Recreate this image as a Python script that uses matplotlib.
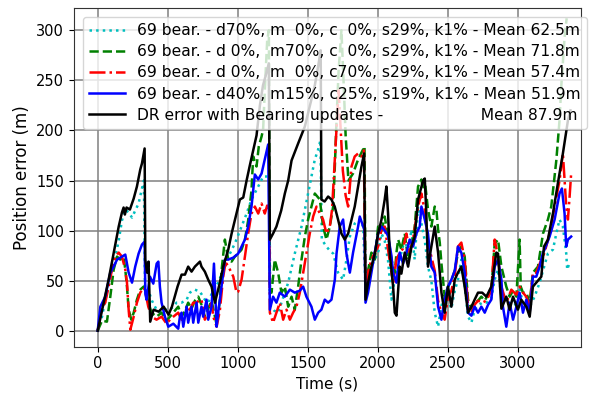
import matplotlib
matplotlib.use("Agg")
import matplotlib.pyplot as plt

# ---------------- data ----------------
labels = [
    "69 bear. - d70%, m  0%, c  0%, s29%, k1% - Mean 62.5m",
    "69 bear. - d 0%,  m70%, c  0%, s29%, k1% - Mean 71.8m",
    "69 bear. - d 0%,  m  0%, c70%, s29%, k1% - Mean 57.4m",
    "69 bear. - d40%, m15%, c25%, s19%, k1% - Mean 51.9m",
    "DR error with Bearing updates -" + " " * 20 + "Mean 87.9m",
]

# cyan dotted (d70)
t_d = [0, 31, 54, 90, 126, 150, 173, 197, 221, 245, 268, 292, 316, 330, 338, 363, 387, 420, 456,
       492, 516, 540, 563, 599, 635, 658, 694, 730, 765, 789, 825, 860, 908, 944, 979, 1027, 1063,
       1098, 1146, 1181, 1225, 1232, 1260, 1288, 1360, 1407, 1455, 1502, 1550, 1574, 1590, 1600,
       1633, 1657, 1681, 1716, 1752, 1776, 1800, 1835, 1871, 1895, 1912, 1954, 2002, 2026, 2049,
       2073, 2097, 2120, 2168, 2192, 2216, 2240, 2263, 2287, 2311, 2335, 2358, 2382, 2406, 2430,
       2454, 2477, 2501, 2525, 2549, 2572, 2596, 2620, 2644, 2668, 2691, 2715, 2745, 2775, 2810,
       2834, 2858, 2882, 2917, 2941, 2965, 2989, 3012, 3036, 3060, 3084, 3119, 3155, 3179, 3214,
       3250, 3274, 3297, 3321, 3345, 3352, 3369]
v_d = [0, 14, 31, 55, 74, 90, 110, 121, 118, 113, 120, 127, 142, 150, 40, 40, 30, 21, 18,
       21, 21, 24, 28, 28, 31, 38, 41, 39, 31, 28, 41, 48, 64, 77, 87, 104, 117,
       131, 144, 154, 154, 25, 20, 18, 48, 77, 104, 137, 171, 181, 190, 91,
       84, 80, 77, 58, 51, 71, 94, 107, 111, 104, 44, 64, 78, 97, 90,
       70, 31, 51, 78, 91, 78, 101, 71, 124, 107, 90, 64, 50, 18, 4,
       25, 34, 30, 22, 40, 51, 71, 44, 14, 8, 21, 25, 28, 28, 32,
       51, 61, 34, 31, 26, 31, 24, 41, 28, 34, 24, 34, 48, 60, 77,
       81, 97, 111, 104, 77, 61, 68]

# green dashed (m70)
t_m = [0, 31, 66, 90, 114, 138, 161, 185, 197, 209, 221, 240, 257, 280, 304, 328, 340, 361, 385,
       420, 456, 492, 516, 540, 575, 599, 623, 646, 670, 694, 718, 741, 765, 789, 813, 837, 849,
       872, 884, 908, 932, 956, 979, 1003, 1027, 1051, 1074, 1098, 1110, 1134, 1150, 1170, 1181,
       1193, 1210, 1222, 1229, 1241, 1264, 1288, 1312, 1336, 1360, 1384, 1407, 1431, 1455, 1479,
       1502, 1526, 1550, 1586, 1609, 1633, 1657, 1681, 1693, 1705, 1720, 1740, 1755, 1770, 1790,
       1823, 1859, 1895, 1905, 1912, 1930, 1954, 1978, 2002, 2026, 2049, 2073, 2097, 2121, 2133,
       2145, 2168, 2192, 2216, 2240, 2263, 2287, 2311, 2323, 2335, 2358, 2382, 2406, 2418, 2430,
       2442, 2454, 2477, 2501, 2525, 2549, 2572, 2596, 2620, 2644, 2668, 2691, 2715, 2739, 2763,
       2787, 2810, 2834, 2858, 2882, 2917, 2941, 2965, 2989, 3012, 3020, 3036, 3060, 3084, 3107,
       3143, 3179, 3214, 3238, 3274, 3297, 3309, 3333, 3348]
v_m = [0, 10, 9, 34, 61, 74, 71, 74, 61, 44, 21, 11, 18, 31, 41, 44, 40, 28, 18,
       14, 18, 10, 14, 18, 24, 14, 20, 28, 22, 30, 34, 26, 14, 22, 30, 14, 6,
       30, 60, 91, 71, 69, 74, 77, 81, 91, 110, 140, 174, 164, 184, 194, 201,
       240, 290, 300, 40, 38, 71, 58, 38, 44, 24, 34, 21, 44, 71, 94,
       111, 124, 137, 131, 104, 91, 104, 124, 164, 210, 260, 300, 250, 195, 150,
       157, 171, 181, 184, 34, 60, 78, 71, 104, 100, 114, 94, 71, 58, 78,
       91, 81, 97, 71, 84, 104, 144, 151, 141, 150, 121, 104, 124, 121, 101,
       88, 67, 34, 44, 50, 60, 78, 84, 74, 31, 22, 28, 30, 34, 30,
       36, 40, 87, 91, 64, 44, 34, 40, 34, 91, 44, 38, 38, 28, 58,
       64, 97, 111, 124, 170, 210, 243, 293, 312]

# red dash-dot (c70)
t_c = [0, 31, 54, 78, 102, 126, 150, 173, 197, 209, 221, 233, 257, 280, 304, 328, 337, 361, 385,
       420, 456, 492, 516, 540, 575, 599, 623, 646, 658, 682, 706, 730, 741, 765, 789, 813, 825,
       849, 872, 896, 908, 920, 944, 968, 991, 1003, 1027, 1051, 1074, 1098, 1122, 1146, 1170,
       1193, 1210, 1225, 1229, 1252, 1276, 1300, 1324, 1348, 1372, 1395, 1419, 1443, 1467, 1490,
       1514, 1538, 1562, 1586, 1609, 1633, 1657, 1673, 1693, 1705, 1720, 1735, 1750, 1770, 1788,
       1812, 1835, 1859, 1883, 1900, 1912, 1930, 1954, 1978, 2002, 2026, 2049, 2073, 2097, 2109,
       2133, 2156, 2180, 2204, 2228, 2251, 2287, 2311, 2323, 2335, 2358, 2382, 2406, 2430, 2454,
       2477, 2501, 2525, 2549, 2572, 2596, 2620, 2644, 2668, 2691, 2715, 2745, 2775, 2810, 2834,
       2858, 2882, 2917, 2953, 2989, 3012, 3036, 3060, 3084, 3107, 3131, 3167, 3190, 3226, 3262,
       3297, 3321, 3333, 3345, 3357, 3369, 3380]
v_c = [0, 24, 28, 44, 61, 74, 78, 74, 61, 48, 21, 1, 14, 28, 38, 43, 41, 24, 14,
       11, 14, 7, 11, 14, 18, 11, 14, 21, 21, 28, 28, 31, 31, 11, 18, 28, 14,
       4, 20, 54, 64, 67, 61, 54, 38, 39, 51, 74, 97, 117, 124, 117, 127,
       117, 125, 120, 18, 8, 18, 28, 11, 21, 11, 18, 24, 38, 58, 77,
       97, 114, 124, 117, 111, 97, 104, 121, 171, 200, 240, 200, 160, 135, 124,
       164, 174, 177, 174, 180, 34, 58, 71, 78, 84, 101, 104, 81, 58, 48,
       71, 78, 82, 97, 78, 91, 124, 137, 128, 121, 88, 74, 60, 30, 18,
       11, 34, 40, 55, 84, 88, 71, 24, 18, 26, 30, 28, 30, 40, 91,
       74, 44, 28, 41, 36, 44, 38, 34, 24, 58, 58, 71, 78, 97, 124,
       150, 177, 150, 124, 111, 134, 157]

# blue solid (d40 m15 c25)
t_b = [0, 19, 54, 90, 114, 138, 173, 197, 221, 245, 268, 292, 316, 335, 340, 349, 373, 397, 421,
       433, 444, 456, 480, 504, 540, 575, 587, 599, 611, 635, 646, 670, 682, 706, 718, 741, 753,
       777, 789, 813, 830, 849, 860, 884, 908, 932, 968, 1003, 1027, 1051, 1074, 1098, 1110, 1122,
       1146, 1170, 1193, 1217, 1229, 1252, 1276, 1300, 1336, 1372, 1407, 1443, 1467, 1490, 1526,
       1550, 1574, 1597, 1621, 1645, 1669, 1693, 1705, 1728, 1752, 1776, 1800, 1823, 1859, 1871,
       1895, 1905, 1912, 1930, 1954, 1978, 2002, 2026, 2049, 2073, 2097, 2109, 2133, 2156, 2180,
       2204, 2228, 2251, 2275, 2299, 2311, 2335, 2358, 2382, 2406, 2430, 2454, 2477, 2501, 2525,
       2549, 2572, 2596, 2620, 2644, 2668, 2691, 2715, 2739, 2763, 2787, 2810, 2834, 2858, 2882,
       2893, 2917, 2941, 2965, 2989, 3012, 3036, 3060, 3084, 3107, 3131, 3155, 3179, 3190, 3226,
       3262, 3297, 3314, 3333, 3345, 3357, 3380]
v_b = [0, 24, 34, 58, 64, 71, 74, 76, 58, 48, 64, 77, 86, 89, 37, 31, 54, 47, 67,
       69, 44, 28, 14, 4, 7, 2, 14, 18, 4, 24, 8, 24, 8, 28, 8, 24, 14,
       31, 11, 24, 67, 4, 18, 44, 71, 71, 73, 77, 84, 91, 104, 124, 140, 156,
       151, 157, 171, 186, 21, 34, 28, 38, 34, 41, 38, 40, 44, 34, 24,
       11, 18, 21, 31, 28, 31, 51, 77, 104, 111, 77, 58, 78, 104, 114,
       104, 100, 28, 38, 58, 78, 97, 104, 100, 95, 75, 58, 48, 78, 67,
       78, 91, 84, 97, 104, 124, 111, 97, 64, 58, 24, 11, 31, 44, 51,
       60, 84, 78, 58, 18, 15, 24, 18, 24, 18, 26, 31, 64, 71, 51,
       24, 4, 28, 11, 24, 38, 18, 31, 18, 54, 54, 64, 78, 81, 94,
       111, 137, 142, 117, 84, 91, 94]

# black solid (DR)
t_k = [0, 78, 150, 173, 185, 194, 206, 230, 257, 280, 304, 316, 335, 340, 352, 363, 375, 399, 435,
       471, 506, 530, 570, 599, 623, 646, 670, 694, 730, 741, 765, 789, 813, 837, 872, 896, 932,
       956, 991, 1015, 1039, 1063, 1086, 1110, 1134, 1158, 1180, 1200, 1222, 1229, 1252, 1276,
       1310, 1336, 1360, 1384, 1431, 1479, 1514, 1550, 1575, 1592, 1597, 1620, 1645, 1669, 1692,
       1716, 1740, 1764, 1788, 1835, 1883, 1902, 1912, 1930, 1954, 1978, 2002, 2026, 2049, 2061,
       2073, 2085, 2109, 2121, 2133, 2156, 2168, 2192, 2216, 2240, 2263, 2287, 2323, 2335, 2345,
       2358, 2382, 2406, 2430, 2454, 2477, 2501, 2525, 2549, 2572, 2596, 2620, 2644, 2668, 2691,
       2715, 2745, 2775, 2810, 2846, 2858, 2882, 2917, 2941, 2965, 3000, 3024, 3060, 3084, 3107,
       3131, 3167, 3186, 3214, 3250, 3285, 3321, 3357, 3375]
v_k = [0, 51, 104, 118, 123, 116, 123, 121, 132, 144, 161, 167, 182, 71, 58, 69, 9, 21, 19,
       24, 16, 24, 44, 56, 56, 64, 59, 64, 69, 64, 59, 51, 44, 28, 48, 64, 81,
       97, 117, 131, 133, 150, 165, 180, 195, 225, 245, 255, 267, 91, 97, 104,
       120, 137, 150, 170, 187, 204, 224, 245, 265, 280, 131, 129, 134, 131, 124,
       111, 97, 91, 97, 124, 164, 177, 31, 48, 64, 77, 97, 111, 131, 144,
       117, 77, 44, 18, 15, 64, 57, 78, 64, 84, 94, 131, 150, 152, 121,
       64, 84, 104, 78, 38, 18, 44, 24, 51, 58, 64, 44, 18, 24, 31,
       38, 38, 34, 44, 78, 77, 22, 34, 21, 34, 21, 31, 24, 14, 44,
       48, 54, 84, 91, 117, 147, 177, 210, 220]

# ---------------- plot ----------------
fig = plt.figure(figsize=(5.95, 3.94), dpi=100)
ax = fig.add_axes([0.1244, 0.120, 0.852, 0.859])

lw = 1.8
ax.plot(t_d, v_d, color="c", linestyle=":", linewidth=lw, label=labels[0])
ax.plot(t_m, v_m, color="g", linestyle="--", linewidth=lw, label=labels[1])
ax.plot(t_c, v_c, color="r", linestyle="-.", linewidth=lw, label=labels[2])
ax.plot(t_b, v_b, color="b", linestyle="-", linewidth=lw, label=labels[3])
ax.plot(t_k, v_k, color="k", linestyle="-", linewidth=lw, label=labels[4])

ax.set_xlim(-169, 3450)
ax.set_ylim(-16, 322)
ax.set_xticks([0, 500, 1000, 1500, 2000, 2500, 3000])
ax.set_yticks([0, 50, 100, 150, 200, 250, 300])
ax.grid(True, color="#808080", linewidth=1.1)
ax.set_xlabel("Time (s)", fontsize=11)
ax.set_ylabel("Position error (m)", fontsize=12)
ax.tick_params(labelsize=10.5)
for s in ax.spines.values():
    s.set_color("#333333")

leg = ax.legend(loc="upper left", bbox_to_anchor=(0.0178, 0.975), borderaxespad=0,
                fontsize=11.2, handlelength=2.3, labelspacing=0.4, framealpha=0.8)

fig.savefig("out.png", dpi=100)
